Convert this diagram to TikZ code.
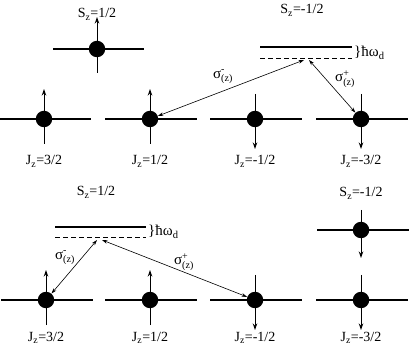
\documentclass[tikz,border=0pt]{standalone}
\usepackage{fontspec}
\setmainfont{Liberation Serif}
\usetikzlibrary{arrows.meta}

\newcommand{\smallfnt}{\fontsize{10}{10}\selectfont}
\newcommand{\sigz}[1]{$\hbox{σ}^{\hbox{\smallfnt #1}}_{\hbox{\smallfnt (z)}}$}

\begin{document}
\begin{tikzpicture}[
    x=1pt, y=-1pt,
    level/.style={line width=2.8pt},
    virtual/.style={line width=0.8pt, dash pattern=on 5pt off 3pt},
    spin/.style={circle, fill=black, minimum size=16.5pt, inner sep=0pt},
    moment/.style={line width=1pt, -{Stealth[length=6.5pt, width=4.5pt]}},
    trans/.style={line width=0.6pt,
        {Stealth[length=5.5pt, width=3.5pt]}-{Stealth[length=5.5pt, width=3.5pt]}},
    lab/.style={font=\fontsize{14}{16}\selectfont, anchor=base, inner sep=0pt},
    sig/.style={font=\fontsize{15}{17}\selectfont, inner sep=0pt},
]
\useasboundingbox (0,0) rectangle (409,352);

% =============================================================================
% Scene 1: hole spin up, transitions into the split S_z = -1/2 level
% =============================================================================
\begin{scope}
    % Occupied hole level S_z = 1/2
    \draw[level] (53,49) -- (144,49);
    \node[spin] (hu) at (97,49) {};
    \draw[moment] (97,73) -- (97,17);
    \node[lab] (lhu) at (97,18) {S\textsubscript{z}=1/2};

    % Empty hole level S_z = -1/2 with exchange splitting
    \draw[level] (260,47) -- (352,47);
    \draw[virtual] (260,58) -- (352,58);
    \node[lab] (lhd) at (302,14) {S\textsubscript{z}=-1/2};
    \node[sig, anchor=west] (wd) at (354,53) {\}ħω\textsubscript{d}};

    % Electron levels J_z
    \foreach \x/\n/\s/\j in {44/a/1/{3/2}, 150/b/1/{1/2}, 255/c/-1/{-1/2}, 361/d/-1/{-3/2}} {
        \draw[level] (\x-45,119) -- (\x+47,119);
        \node[spin] (e\n) at (\x,119) {};
        \draw[moment] (\x,119+25*\s) -- (\x,119-30*\s);
        \node[lab] (l\n) at (\x,165) {J\textsubscript{z}=\j};
    }

    % Optical transitions
    \coordinate (va) at (304,60);
    \coordinate (vb) at (309,60);
    \draw[trans] (eb) -- (va);
    \draw[trans] (vb) -- (ed);
    \node[sig] (sa) at (223,77) {\sigz{-}};
    \node[sig] (sb) at (345,79) {\sigz{+}};
\end{scope}

% =============================================================================
% Scene 2: hole spin down, transitions into the split S_z = 1/2 level
% =============================================================================
\begin{scope}
    % Empty hole level S_z = 1/2 with exchange splitting
    \draw[level] (55,227) -- (146,227);
    \draw[virtual] (55,237) -- (146,237);
    \node[lab] (lku) at (96,196) {S\textsubscript{z}=1/2};
    \node[sig, anchor=west] (wu) at (148,232) {\}ħω\textsubscript{d}};

    % Occupied hole level S_z = -1/2
    \draw[level] (317,230) -- (409,230);
    \node[spin] (kd) at (361,230) {};
    \draw[moment] (361,210) -- (361,258);
    \node[lab] (lkd) at (361,197) {S\textsubscript{z}=-1/2};

    % Electron levels J_z
    \foreach \x/\n/\s/\j in {46/f/1/{3/2}, 150/g/1/{1/2}, 255/h/-1/{-1/2}, 361/i/-1/{-3/2}} {
        \draw[level] (\x-45,300) -- (\x+47,300);
        \node[spin] (e\n) at (\x,300) {};
        \draw[moment] (\x,300+25*\s) -- (\x,300-30*\s);
        \node[lab] (l\n) at (\x,341) {J\textsubscript{z}=\j};
    }

    % Optical transitions
    \coordinate (ua) at (97,240);
    \coordinate (ub) at (102,240);
    \draw[trans] (ef) -- (ua);
    \draw[trans] (ub) -- (eh);
    \node[sig] (sc) at (65,258) {\sigz{-}};
    \node[sig] (sd) at (184,262) {\sigz{+}};
\end{scope}

\end{tikzpicture}
\end{document}
